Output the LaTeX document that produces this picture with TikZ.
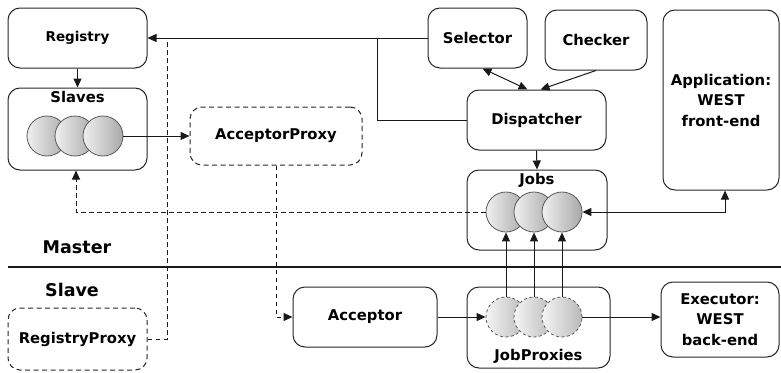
\documentclass[tikz,border=0pt]{standalone}
\usepackage{fontspec}
\setmainfont{DejaVu Sans}
\usetikzlibrary{arrows.meta}
\newcommand\dgfont{\fontsize{14.8}{20.5}\selectfont\bfseries}
\newcommand\sidefont{\fontsize{17.5}{20}\selectfont\bfseries}
\begin{document}
\begin{tikzpicture}[x=1pt,y=-1pt,
  box/.style={draw=black!85, line width=1pt, rounded corners=12pt, rectangle,
    align=center, font=\dgfont, inner sep=0pt},
  proxybox/.style={box, dash pattern=on 5pt off 3.5pt},
  ball/.style={circle, minimum size=40pt, inner sep=0pt, draw=black!65,
    line width=0.8pt, shading angle=60, left color=gray!12, right color=gray!68},
  proxyball/.style={ball, dash pattern=on 3pt off 2.5pt, left color=gray!8, right color=gray!55},
  link/.style={draw=black!90, line width=1pt},
  dlink/.style={link, dash pattern=on 4.5pt off 3.5pt},
  arr/.style={-{Triangle[length=9pt,width=8pt]}},
  biarr/.style={{Triangle[length=9pt,width=8pt]}-{Triangle[length=9pt,width=8pt]}},
  toplabel/.style={label={[anchor=north,font=\dgfont,inner sep=2pt,yshift=-2pt]north:#1}},
  botlabel/.style={label={[anchor=south,font=\dgfont,inner sep=2pt,yshift=3pt]south:#1}}]
\useasboundingbox (0,0) rectangle (781,372);

% Master side
\node[box, minimum width=139pt, minimum height=60pt, font=\fontsize{13.5}{16}\selectfont\bfseries]
  (registry) at (77.5,38) {Registry};
\node[box, minimum width=139pt, minimum height=82pt, toplabel=Slaves] (slaves) at (77.5,129) {};
\node[ball] (s1) at (47,136) {};
\node[ball] (s2) at (75,136) {};
\node[ball] (s3) at (103,136) {};
\node[proxybox, minimum width=172pt, minimum height=58pt] (acceptorproxy) at (276,136) {AcceptorProxy};
\node[box, minimum width=99pt, minimum height=60pt] (selector) at (477.5,38) {Selector};
\node[box, minimum width=102pt, minimum height=60pt] (checker) at (596,40) {Checker};
\node[box, minimum width=116pt, minimum height=180pt] (application) at (721,100)
  {Application:\\WEST\\front-end};
\node[box, minimum width=139pt, minimum height=60pt] (dispatcher) at (536.5,120) {Dispatcher};
\node[box, minimum width=140pt, minimum height=80pt, toplabel=Jobs] (jobs) at (537,210) {};
\node[ball] (j1) at (506,212) {};
\node[ball] (j2) at (534,212) {};
\node[ball] (j3) at (562,212) {};

% Master / Slave boundary
\coordinate (sepL) at (8,267);
\coordinate (sepR) at (781,267);
\draw[line width=1.6pt, black!90] (sepL) -- (sepR);
\node[font=\sidefont] (master) at (77,247) {Master};
\node[font=\sidefont] (slave) at (72,290) {Slave};

% Slave side
\node[proxybox, minimum width=139pt, minimum height=62pt] (registryproxy) at (77.5,339) {RegistryProxy};
\node[box, minimum width=144pt, minimum height=60pt] (acceptor) at (365,317) {Acceptor};
\node[box, minimum width=143pt, minimum height=81pt, botlabel=JobProxies] (jobproxies) at (538.5,327.5) {};
\node[proxyball] (p1) at (506,317) {};
\node[proxyball] (p2) at (534,317) {};
\node[proxyball] (p3) at (562,317) {};
\node[box, minimum width=118pt, minimum height=75pt] (executor) at (720,319.5)
  {Executor:\\WEST\\back-end};

% junctions on the line into the registry
\coordinate (dj) at (377,38);
\coordinate (rj) at (167,38);

% connectors
\draw[link, arr] (selector.west) -- (registry.east);
\draw[link] (dispatcher.west) -| (dj);
\draw[dlink] (registryproxy.east) -| (rj);
\draw[link, arr] (registry.south) -- (slaves.north);
\draw[link, arr] (s3.east) -- (acceptorproxy.west);
\draw[dlink, arr] (acceptorproxy.south) |- (acceptor.west);
\draw[dlink, arr] (j1.west) -| ([xshift=-1.5pt]slaves.south);
\draw[link, biarr] ([xshift=5pt]selector.south) -- ([xshift=-9pt]dispatcher.north);
\draw[link, arr] (checker.south) -- ([xshift=4pt]dispatcher.north);
\draw[link, arr] (dispatcher.south) -- (jobs.north);
\draw[link, biarr] (j3.east) -| ([xshift=4pt]application.south);
\draw[link, arr] (p1.north) -- (j1.south);
\draw[link, arr] (p2.north) -- (j2.south);
\draw[link, arr] (p3.north) -- (j3.south);
\draw[link, arr] (acceptor.east) -- (p1.west);
\draw[link, arr] (p3.east) -- (p3.east -| executor.west);
\end{tikzpicture}
\end{document}
